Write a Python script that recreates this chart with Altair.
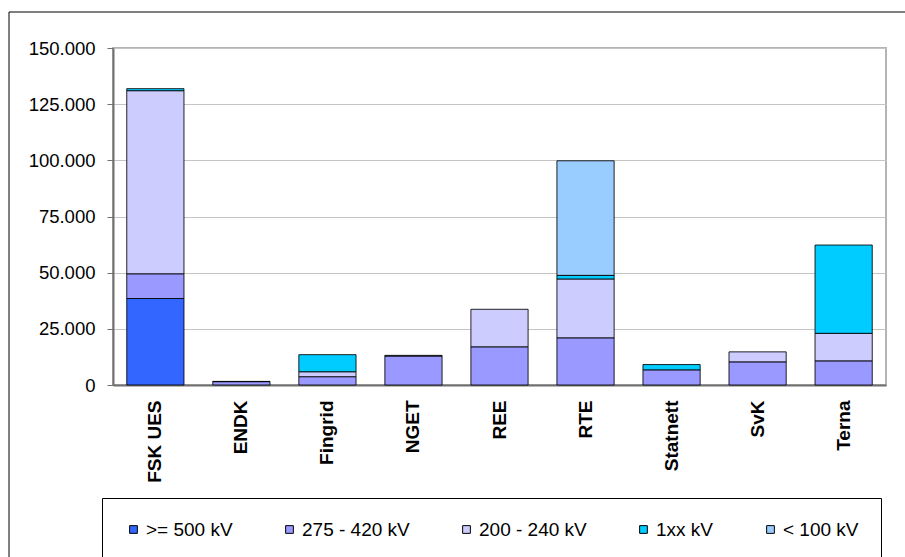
import altair as alt
import pandas as pd

# Grid operators and voltage classes
operators = ["FSK UES", "ENDK", "Fingrid", "NGET", "REE", "RTE", "Statnett", "SvK", "Terna"]
levels = [">= 500 kV", "275 - 420 kV", "200 - 240 kV", "1xx kV", "< 100 kV"]
colors = ["#3366FF", "#9999FF", "#CCCCFF", "#00CCFF", "#99CCFF"]

# Line length (km) per voltage class, one value per operator
kv_ge500 = [38500, 0, 0, 0, 0, 0, 0, 0, 0]
kv_275_420 = [11000, 1500, 3700, 12900, 17000, 21000, 6750, 10300, 10750]
kv_200_240 = [81500, 100, 2200, 300, 16700, 26200, 0, 4450, 12250]
kv_1xx = [900, 0, 7600, 0, 0, 1600, 2350, 0, 39300]
kv_lt100 = [0, 0, 0, 0, 0, 51000, 0, 0, 0]

series = [kv_ge500, kv_275_420, kv_200_240, kv_1xx, kv_lt100]
rows = []
for li, (lvl, vals) in enumerate(zip(levels, series)):
    for op, v in zip(operators, vals):
        if v > 0:
            rows.append({"operator": op, "level": lvl, "order": li, "km": v})
df = pd.DataFrame(rows)

W, H = 773, 337

# Frame around the whole figure
frame = alt.Chart(pd.DataFrame({"k": [0]})).mark_rect(
    fillOpacity=0, stroke="black", strokeWidth=1
).encode(
    x=alt.value(-104), x2=alt.value(830), y=alt.value(-36), y2=alt.value(540)
)

bars = alt.Chart(df).mark_bar(stroke="black", strokeWidth=1, strokeOpacity=0.85).encode(
    x=alt.X(
        "operator:N",
        sort=operators,
        scale=alt.Scale(paddingInner=0.335, paddingOuter=0.16),
        axis=alt.Axis(
            title=None, labelAngle=270, labelAlign="right", labelBaseline="middle",
            labelFontWeight="bold", labelFontSize=19, labelPadding=15, ticks=False,
            domainColor="#707070", domainWidth=2, labelColor="black",
        ),
    ),
    y=alt.Y(
        "km:Q",
        stack="zero",
        scale=alt.Scale(domain=[0, 150000], nice=False),
        axis=alt.Axis(
            title=None, values=[0, 25000, 50000, 75000, 100000, 125000, 150000],
            labelExpr="datum.value == 0 ? '0' : format(datum.value / 1000, '.3f')",
            labelFontSize=18.5, labelPadding=12, tickSize=6, tickColor="#707070",
            domainColor="#707070", domainWidth=2, labelColor="black",
            grid=True, gridColor="#c4c4c4", gridWidth=1,
        ),
    ),
    color=alt.Color(
        "level:N",
        scale=alt.Scale(domain=levels, range=colors),
        legend=alt.Legend(
            title=None, orient="none", legendX=-11, legendY=450,
            direction="horizontal", columns=5, gridAlign="none",
            symbolType="square", symbolSize=60, symbolStrokeColor="black",
            symbolStrokeWidth=1, symbolOpacity=1,
            labelFontSize=19, labelOffset=3, columnPadding=47,
            padding=22, strokeColor="black", fillColor="white",
            labelColor="black",
        ),
    ),
    order=alt.Order("order:Q", sort="ascending"),
)

chart = (
    alt.layer(frame, bars)
    .properties(
        width=W, height=H,
        autosize=alt.AutoSizeParams(type="none"),
        padding={"left": 113, "top": 48, "right": 905 - 113 - W, "bottom": 557 - 48 - H},
        background="white",
    )
    .configure(font="Liberation Sans")
    .configure_view(stroke="#b4b4b4", strokeWidth=2)
)

chart.save("out.html", embed_options={"renderer": "svg", "actions": False})
